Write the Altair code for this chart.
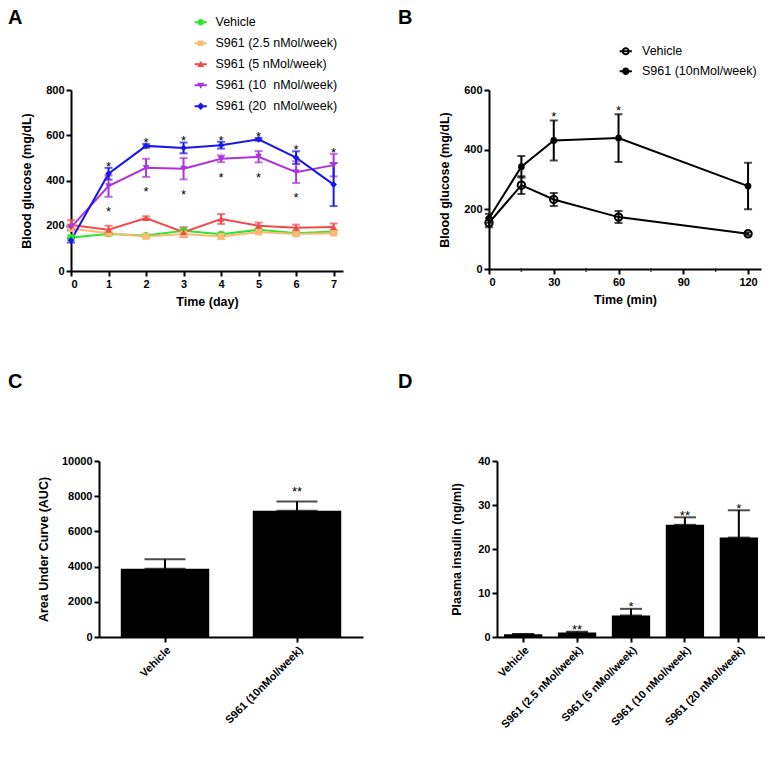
import altair as alt
import pandas as pd

FONT = "Liberation Sans"

# ---------------- Panel A data ----------------
days = [0, 1, 2, 3, 4, 5, 6, 7]
series_A = ["Vehicle", "S961 (2.5 nMol/week)", "S961 (5 nMol/week)",
            "S961 (10\u00a0 nMol/week)", "S961 (20\u00a0 nMol/week)"]
colors_A = ["#2fe62f", "#ffb872", "#f24a4a", "#ad34dc", "#1717e8"]
shapes_A = ["circle", "square", "triangle-up", "triangle-down", "diamond"]
vehicle_A = [148, 164, 157, 178, 163, 182, 167, 175]
vehicle_A_err = [10, 8, 6, 8, 6, 6, 6, 6]
s25_A = [188, 167, 153, 163, 153, 172, 164, 167]
s25_A_err = [10, 8, 8, 10, 12, 8, 8, 8]
s5_A = [203, 182, 234, 172, 230, 200, 191, 194]
s5_A_err = [22, 18, 8, 22, 22, 14, 14, 16]
s10_A = [193, 375, 456, 452, 496, 505, 437, 468]
s10_A_err = [12, 47, 40, 47, 15, 25, 48, 50]
s20_A = [136, 430, 553, 544, 556, 582, 501, 382]
s20_A_err = [10, 26, 8, 24, 15, 6, 28, 95]
starA_above_days = [1, 2, 3, 4, 5, 6, 7]
starA_below_days = [1, 2, 3, 4, 5, 6]

# ---------------- Panel B data ----------------
times_B = [0, 15, 30, 60, 120]
series_B = ["Vehicle", "S961 (10nMol/week)"]
veh_B = [155, 281, 233, 174, 118]
veh_B_err = [15, 30, 22, 20, 5]
s961_B = [170, 343, 431, 439, 278]
s961_B_err = [15, 36, 67, 80, 78]
starB_times = [30, 60]
minor_ticks_B = [15, 45, 75, 105]

# ---------------- Panel C data ----------------
groups_C = ["Vehicle", "S961 (10nMol/week)"]
auc_C = [3880, 7180]
auc_C_err = [540, 520]
stars_C = ["", "**"]

# ---------------- Panel D data ----------------
groups_D = ["Vehicle", "S961 (2.5 nMol/week)", "S961 (5 nMol/week)",
            "S961 (10 nMol/week)", "S961 (20 nMol/week)"]
insulin_D = [0.6, 1.0, 4.9, 25.5, 22.6]
insulin_D_err = [0.1, 0.2, 1.5, 1.7, 6.2]
stars_D = ["", "**", "*", "**", "*"]

# ---------------- build tables ----------------
means_A = [vehicle_A, s25_A, s5_A, s10_A, s20_A]
errs_A = [vehicle_A_err, s25_A_err, s5_A_err, s10_A_err, s20_A_err]
rows = []
for k, (s, m, e) in enumerate(zip(series_A, means_A, errs_A)):
    for d, v, er in zip(days, m, e):
        rows.append(dict(day=d, series=s, order=k, mean=v, lo=v - er, hi=v + er))
dfA = pd.DataFrame(rows)

star_above = pd.DataFrame({
    "day": starA_above_days,
    "y": [max(s10_A[d] + s10_A_err[d], s20_A[d] + s20_A_err[d]) for d in starA_above_days],
})
star_below = pd.DataFrame({
    "day": starA_below_days,
    "y": [s10_A[d] - s10_A_err[d] for d in starA_below_days],
})

rowsB = []
for s, m, e in zip(series_B, [veh_B, s961_B], [veh_B_err, s961_B_err]):
    for t, v, er in zip(times_B, m, e):
        rowsB.append(dict(t=t, series=s, mean=v, lo=v - er, hi=v + er))
dfB = pd.DataFrame(rowsB)
starB = pd.DataFrame({"t": starB_times,
                      "y": [s961_B[times_B.index(t)] + s961_B_err[times_B.index(t)] for t in starB_times]})
minorB = pd.DataFrame({"t": minor_ticks_B})

dfC = pd.DataFrame({"group": groups_C, "v": auc_C,
                    "hi": [a + b for a, b in zip(auc_C, auc_C_err)], "star": stars_C})
dfD = pd.DataFrame({"group": groups_D, "v": insulin_D,
                    "hi": [a + b for a, b in zip(insulin_D, insulin_D_err)], "star": stars_D})

# ---------------- legend symbol paths ----------------
LINE = "M-1.75,-0.3L1.75,-0.3L1.75,0.3L-1.75,0.3Z"
paths_A = [
    LINE + "M0.95,0A0.95,0.95 0 1,1 -0.95,0A0.95,0.95 0 1,1 0.95,0Z",
    LINE + "M-0.8,-0.8L0.8,-0.8L0.8,0.8L-0.8,0.8Z",
    LINE + "M0,-1L1,0.75L-1,0.75Z",
    LINE + "M-1,-0.75L1,-0.75L0,1Z",
    LINE + "M0,-1.1L1.1,0L0,1.1L-1.1,0Z",
]
paths_B = [
    LINE + "M1.15,0A1.15,1.15 0 1,1 -1.15,0A1.15,1.15 0 1,1 1.15,0Z"
         + "M0.6,0A0.6,0.6 0 1,0 -0.6,0A0.6,0.6 0 1,0 0.6,0Z",
    LINE + "M1.05,0A1.05,1.05 0 1,1 -1.05,0A1.05,1.05 0 1,1 1.05,0Z",
]


def leg(x, y, off, rowpad, **kw):
    return alt.Legend(title=None, orient="none", legendX=x, legendY=y,
                      symbolSize=49, symbolStrokeWidth=0, labelOffset=off,
                      rowPadding=rowpad, labelFontSize=12.5, labelFont=FONT,
                      labelFontWeight="normal", labelColor="black", **kw)


def letter(t, dx, offset):
    return alt.TitleParams(t, anchor="start", frame="group", dx=dx, offset=offset,
                           fontSize=20, fontWeight="bold", font=FONT, color="black")


IND = dict(color="independent", shape="independent")

# ---------------- Panel A ----------------
# panel A's plot begins 28px left of the shared column origin
SHIFT_A = 28
WA, HA = 244, 181
scXA = alt.Scale(domain=[0, 7.25], range=[-SHIFT_A, WA], nice=False)
axXA = alt.Axis(values=days, format="d", labelOverlap=False)
scYA = alt.Scale(domain=[0, 800], nice=False)
axYA = alt.Axis(values=[0, 200, 400, 600, 800], format="d", titlePadding=12,
                labelOverlap=False, offset=SHIFT_A)


def XA(f="day"):
    return alt.X(f + ":Q", scale=scXA, axis=axXA, title="Time (day)")


def YA(f):
    return alt.Y(f + ":Q", scale=scYA, axis=axYA, title="Blood glucose (mg/dL)")


colA = alt.Color("series:N", scale=alt.Scale(domain=series_A, range=colors_A), legend=None)
baseA = alt.Chart(dfA)
linesA = baseA.mark_line(strokeWidth=2).encode(x=XA(), y=YA("mean"), color=colA, order="day:Q")
errA = baseA.mark_errorbar(ticks=True, size=8, thickness=2).encode(
    x=XA(), y=YA("lo"), y2="hi:Q", color=colA)
pointsA = [
    baseA.transform_filter(alt.datum.series == s).mark_point(
        filled=True, shape=sh, size=45, color=c, opacity=1).encode(x=XA(), y=YA("mean"))
    for s, sh, c in zip(series_A, shapes_A, colors_A)
]
legA = baseA.transform_filter("false").mark_point(filled=True, opacity=1).encode(
    x=XA(), y=YA("mean"),
    color=alt.Color("series:N", scale=alt.Scale(domain=series_A, range=colors_A),
                    legend=leg(123.5 - SHIFT_A, -74, 8.5, 8)),
    shape=alt.Shape("series:N", scale=alt.Scale(domain=series_A, range=paths_A),
                    legend=leg(123.5 - SHIFT_A, -74, 8.5, 8)),
)
starsA1 = alt.Chart(star_above).mark_text(text="*", fontSize=13, dy=-1, font=FONT,
                                          color="black").encode(x=XA(), y=YA("y"))
starsA2 = alt.Chart(star_below).mark_text(text="*", fontSize=13, dy=15.5, font=FONT,
                                          color="black").encode(x=XA(), y=YA("y"))
panelA = alt.layer(linesA, errA, *pointsA, legA, starsA1, starsA2).resolve_scale(
    **IND).properties(width=WA, height=HA, title=letter("A", -91, -12))

# ---------------- Panel B ----------------
WB, HB = 272, 179
scXB = alt.Scale(domain=[0, 126], nice=False)
axXB = alt.Axis(values=[0, 30, 60, 90, 120], labelOverlap=False)
scYB = alt.Scale(domain=[0, 600], nice=False)
axYB = alt.Axis(values=[0, 200, 400, 600], titlePadding=12, labelOverlap=False)


def XB(f="t"):
    return alt.X(f + ":Q", scale=scXB, axis=axXB, title="Time (min)")


def YB(f):
    return alt.Y(f + ":Q", scale=scYB, axis=axYB, title="Blood glucose (mg/dL)")


baseB = alt.Chart(dfB)
linesB = baseB.mark_line(strokeWidth=2, color="black").encode(x=XB(), y=YB("mean"),
                                                               detail="series:N")
errB = baseB.mark_errorbar(ticks=True, size=8, thickness=2, color="black").encode(
    x=XB(), y=YB("lo"), y2="hi:Q", detail="series:N")
ptsB_open = baseB.transform_filter(alt.datum.series == series_B[0]).mark_point(
    filled=False, shape="circle", size=55, strokeWidth=2, color="black", opacity=1).encode(
    x=XB(), y=YB("mean"))
ptsB_fill = baseB.transform_filter(alt.datum.series == series_B[1]).mark_point(
    filled=True, shape="circle", size=45, color="black", opacity=1).encode(
    x=XB(), y=YB("mean"))
legB = baseB.transform_filter("false").mark_point(filled=True, color="black", opacity=1).encode(
    x=XB(), y=YB("mean"),
    shape=alt.Shape("series:N", scale=alt.Scale(domain=series_B, range=paths_B),
                    legend=leg(130.5, -45, 10, 7, symbolFillColor="black")))
minorTicksB = alt.Chart(minorB).mark_tick(orient="vertical", size=4, thickness=1.5,
                                          color="black").encode(x=XB(), y=alt.value(HB + 1))
starsB = alt.Chart(starB).mark_text(text="*", fontSize=13, dy=-3, font=FONT,
                                    color="black").encode(x=XB(), y=YB("y"))
panelB = alt.layer(linesB, errB, ptsB_open, ptsB_fill, legB, minorTicksB, starsB).resolve_scale(
    **IND).properties(width=WB, height=HB, title=letter("B", -91, 17))

# ---------------- Panel C ----------------
WC, HC = 264, 176
scXC = alt.Scale(paddingInner=0.33, paddingOuter=0.165)
axXC = alt.Axis(labelAngle=-45, labelOverlap=False)
scYC = alt.Scale(domain=[0, 10000], nice=False)
axYC = alt.Axis(values=[0, 2000, 4000, 6000, 8000, 10000], format="d", titlePadding=11,
                labelOverlap=False)


def XC():
    return alt.X("group:N", sort=groups_C, scale=scXC, axis=axXC, title=None)


def YC(f):
    return alt.Y(f + ":Q", scale=scYC, axis=axYC, title="Area Under Curve (AUC)")


baseC = alt.Chart(dfC)
barsC = baseC.mark_bar(color="black").encode(x=XC(), y=YC("v"))
errC = baseC.mark_errorbar(ticks=True, size=41, thickness=2, color="black").encode(
    x=XC(), y=YC("v"), y2="hi:Q")
starsC = baseC.mark_text(fontSize=13, dy=-9.5, font=FONT, color="black").encode(
    x=XC(), y=YC("hi"), text="star:N")
panelC = alt.layer(barsC, errC, starsC).properties(
    width=WC, height=HC, title=letter("C", -91, 63))

# ---------------- Panel D ----------------
WD, HD = 268, 176
scXD = alt.Scale(paddingInner=0.29, paddingOuter=0.13)
axXD = alt.Axis(labelAngle=-45, labelOverlap=False)
scYD = alt.Scale(domain=[0, 40], nice=False)
axYD = alt.Axis(values=[0, 10, 20, 30, 40], format="d", titlePadding=14, labelOverlap=False)


def XD():
    return alt.X("group:N", sort=groups_D, scale=scXD, axis=axXD, title=None)


def YD(f):
    return alt.Y(f + ":Q", scale=scYD, axis=axYD, title="Plasma insulin (ng/ml)")


baseD = alt.Chart(dfD)
barsD = baseD.mark_bar(color="black").encode(x=XD(), y=YD("v"))
errD = baseD.mark_errorbar(ticks=True, size=22, thickness=2, color="black").encode(
    x=XD(), y=YD("v"), y2="hi:Q")
starsD = baseD.mark_text(fontSize=13, dy=-1.5, font=FONT, color="black").encode(
    x=XD(), y=YD("hi"), text="star:N")
panelD = alt.layer(barsD, errD, starsD).properties(
    width=WD, height=HD, title=letter("D", -99, 63))

top = alt.hconcat(panelA, panelB, spacing=27).resolve_scale(**IND)
bottom = alt.hconcat(panelC, panelD, spacing=35).resolve_scale(**IND)

chart = alt.vconcat(top, bottom, spacing=64).resolve_scale(**IND).properties(
    padding={"left": 0, "top": 0, "right": 0, "bottom": 0}
).configure_view(stroke=None).configure_axis(
    domainColor="black", domainWidth=2, tickColor="black", tickWidth=2, tickSize=5,
    labelColor="black", labelFont=FONT, labelFontWeight="bold", labelFontSize=11,
    labelPadding=2, titleColor="black", titleFont=FONT, titleFontWeight="bold",
    titleFontSize=12.5, grid=False, labelOverlap=False
).configure_axisX(titlePadding=6)

chart.save("out.html", embed_options={"renderer": "svg", "actions": False})
